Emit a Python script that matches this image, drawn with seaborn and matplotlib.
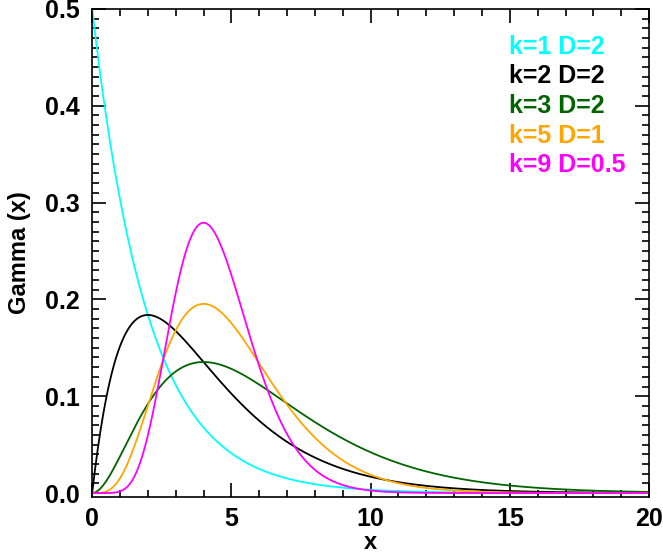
import numpy as np
import pandas as pd
import matplotlib
matplotlib.use('Agg')
import matplotlib.pyplot as plt
import seaborn as sns
from matplotlib.ticker import MultipleLocator
from math import gamma as gamma_fn

# Gamma distribution parameters (shape k, scale D) and colors
shapes = [1, 2, 3, 5, 9]
scales = [2, 2, 2, 1, 0.5]
labels = ['k=1 D=2', 'k=2 D=2', 'k=3 D=2', 'k=5 D=1', 'k=9 D=0.5']
colors = ['#00ffff', '#000000', '#006400', '#ffa500', '#ff00ff']

sns.set_style('ticks', {'axes.edgecolor': 'black', 'text.color': 'black',
                        'axes.labelcolor': 'black', 'xtick.color': 'black',
                        'ytick.color': 'black'})
plt.rcParams['font.family'] = ['Liberation Sans', 'DejaVu Sans']
plt.rcParams['font.weight'] = 'bold'

x = np.linspace(0, 20, 801)
frames = []
for k, d, lab in zip(shapes, scales, labels):
    y = x ** (k - 1) * np.exp(-x / d) / (gamma_fn(k) * d ** k)
    frames.append(pd.DataFrame({'x': x, 'y': y, 'curve': lab}))
df = pd.concat(frames)

fig = plt.figure(figsize=(6.63, 5.54), dpi=100)
ax = fig.add_axes([0.139, 0.103, 0.840, 0.881])

sns.lineplot(data=df, x='x', y='y', hue='curve', palette=dict(zip(labels, colors)),
             linewidth=1.3, legend=False, ax=ax)

ax.set_xlim(0, 20)
ax.set_ylim(-0.004, 0.5)
ax.xaxis.set_major_locator(MultipleLocator(5))
ax.xaxis.set_minor_locator(MultipleLocator(1))
ax.yaxis.set_major_locator(MultipleLocator(0.1))
ax.yaxis.set_minor_locator(MultipleLocator(0.01))
ax.yaxis.set_major_formatter(matplotlib.ticker.FormatStrFormatter('%.1f'))
ax.tick_params(which='both', direction='in', top=True, right=True, width=1.2)
ax.tick_params(which='major', length=10, labelsize=18)
ax.tick_params(axis='x', which='major', pad=7)
ax.tick_params(axis='y', which='major', pad=9)
ax.tick_params(which='minor', length=5)
for s in ax.spines.values():
    s.set_linewidth(1.2)

ax.set_xlabel('x', fontsize=17, fontweight='bold', labelpad=0)
ax.set_ylabel('Gamma (x)', fontsize=17, fontweight='bold', labelpad=10)

for i, (lab, c) in enumerate(zip(labels, colors)):
    ax.text(0.749, 0.922 - i * 0.0605, lab, color=c, fontsize=18, fontweight='bold',
            transform=ax.transAxes, va='center', ha='left')

fig.savefig('out.png', dpi=100)
